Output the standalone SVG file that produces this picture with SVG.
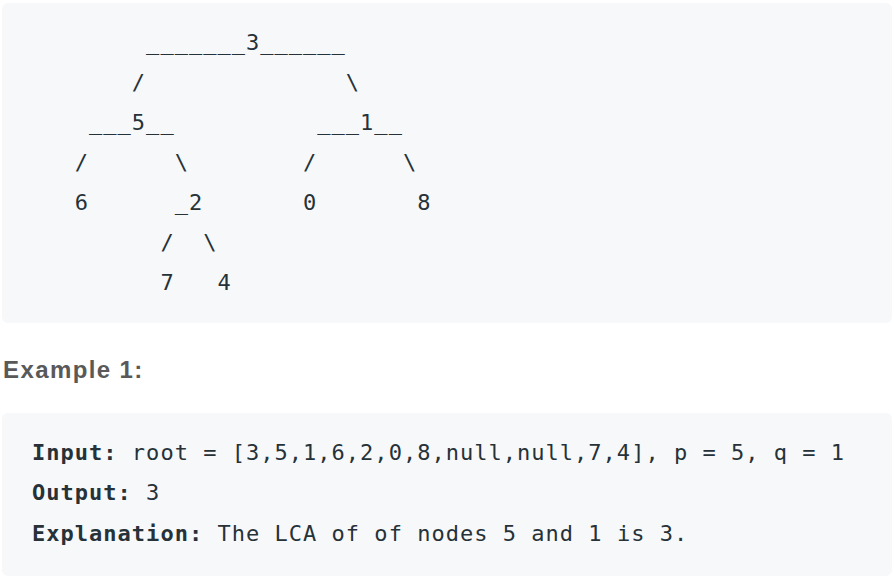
<svg xmlns="http://www.w3.org/2000/svg" width="894" height="578" viewBox="0 0 894 578" xml:space="preserve">
<style>
.box{fill:#f7f8fa}
.mono{font-family:"DejaVu Sans Mono","Liberation Mono",monospace;font-size:22px;letter-spacing:1.02px;fill:#263238;white-space:pre}
.b{font-weight:bold}
.head{font-family:"Liberation Sans",Arial,sans-serif;font-size:24px;font-weight:bold;fill:#595959;letter-spacing:1.4px}
</style>
<rect width="894" height="578" fill="#ffffff"/>
<rect class="box" x="2" y="3" width="890" height="320" rx="6"/>
<rect class="box" x="2" y="413" width="890" height="163" rx="6"/>
<g id="tree" class="mono">
<text xml:space="preserve" x="32" y="50">        _______3______</text>
<text xml:space="preserve" x="32" y="90">       /              \</text>
<text xml:space="preserve" x="32" y="130">    ___5__          ___1__</text>
<text xml:space="preserve" x="32" y="170">   /      \        /      \</text>
<text xml:space="preserve" x="32" y="210">   6      _2       0       8</text>
<text xml:space="preserve" x="32" y="250">         /  \</text>
<text xml:space="preserve" x="32" y="290">         7   4</text>
</g>
<text id="heading" class="head" x="3" y="378">Example 1:</text>
<g id="example" class="mono">
<text xml:space="preserve" x="32" y="459.5"><tspan class="b">Input:</tspan> root = [3,5,1,6,2,0,8,null,null,7,4], p = 5, q = 1</text>
<text xml:space="preserve" x="32" y="500"><tspan class="b">Output:</tspan> 3</text>
<text xml:space="preserve" x="32" y="540.5"><tspan class="b">Explanation:</tspan> The LCA of of nodes 5 and 1 is 3.</text>
</g>
</svg>
